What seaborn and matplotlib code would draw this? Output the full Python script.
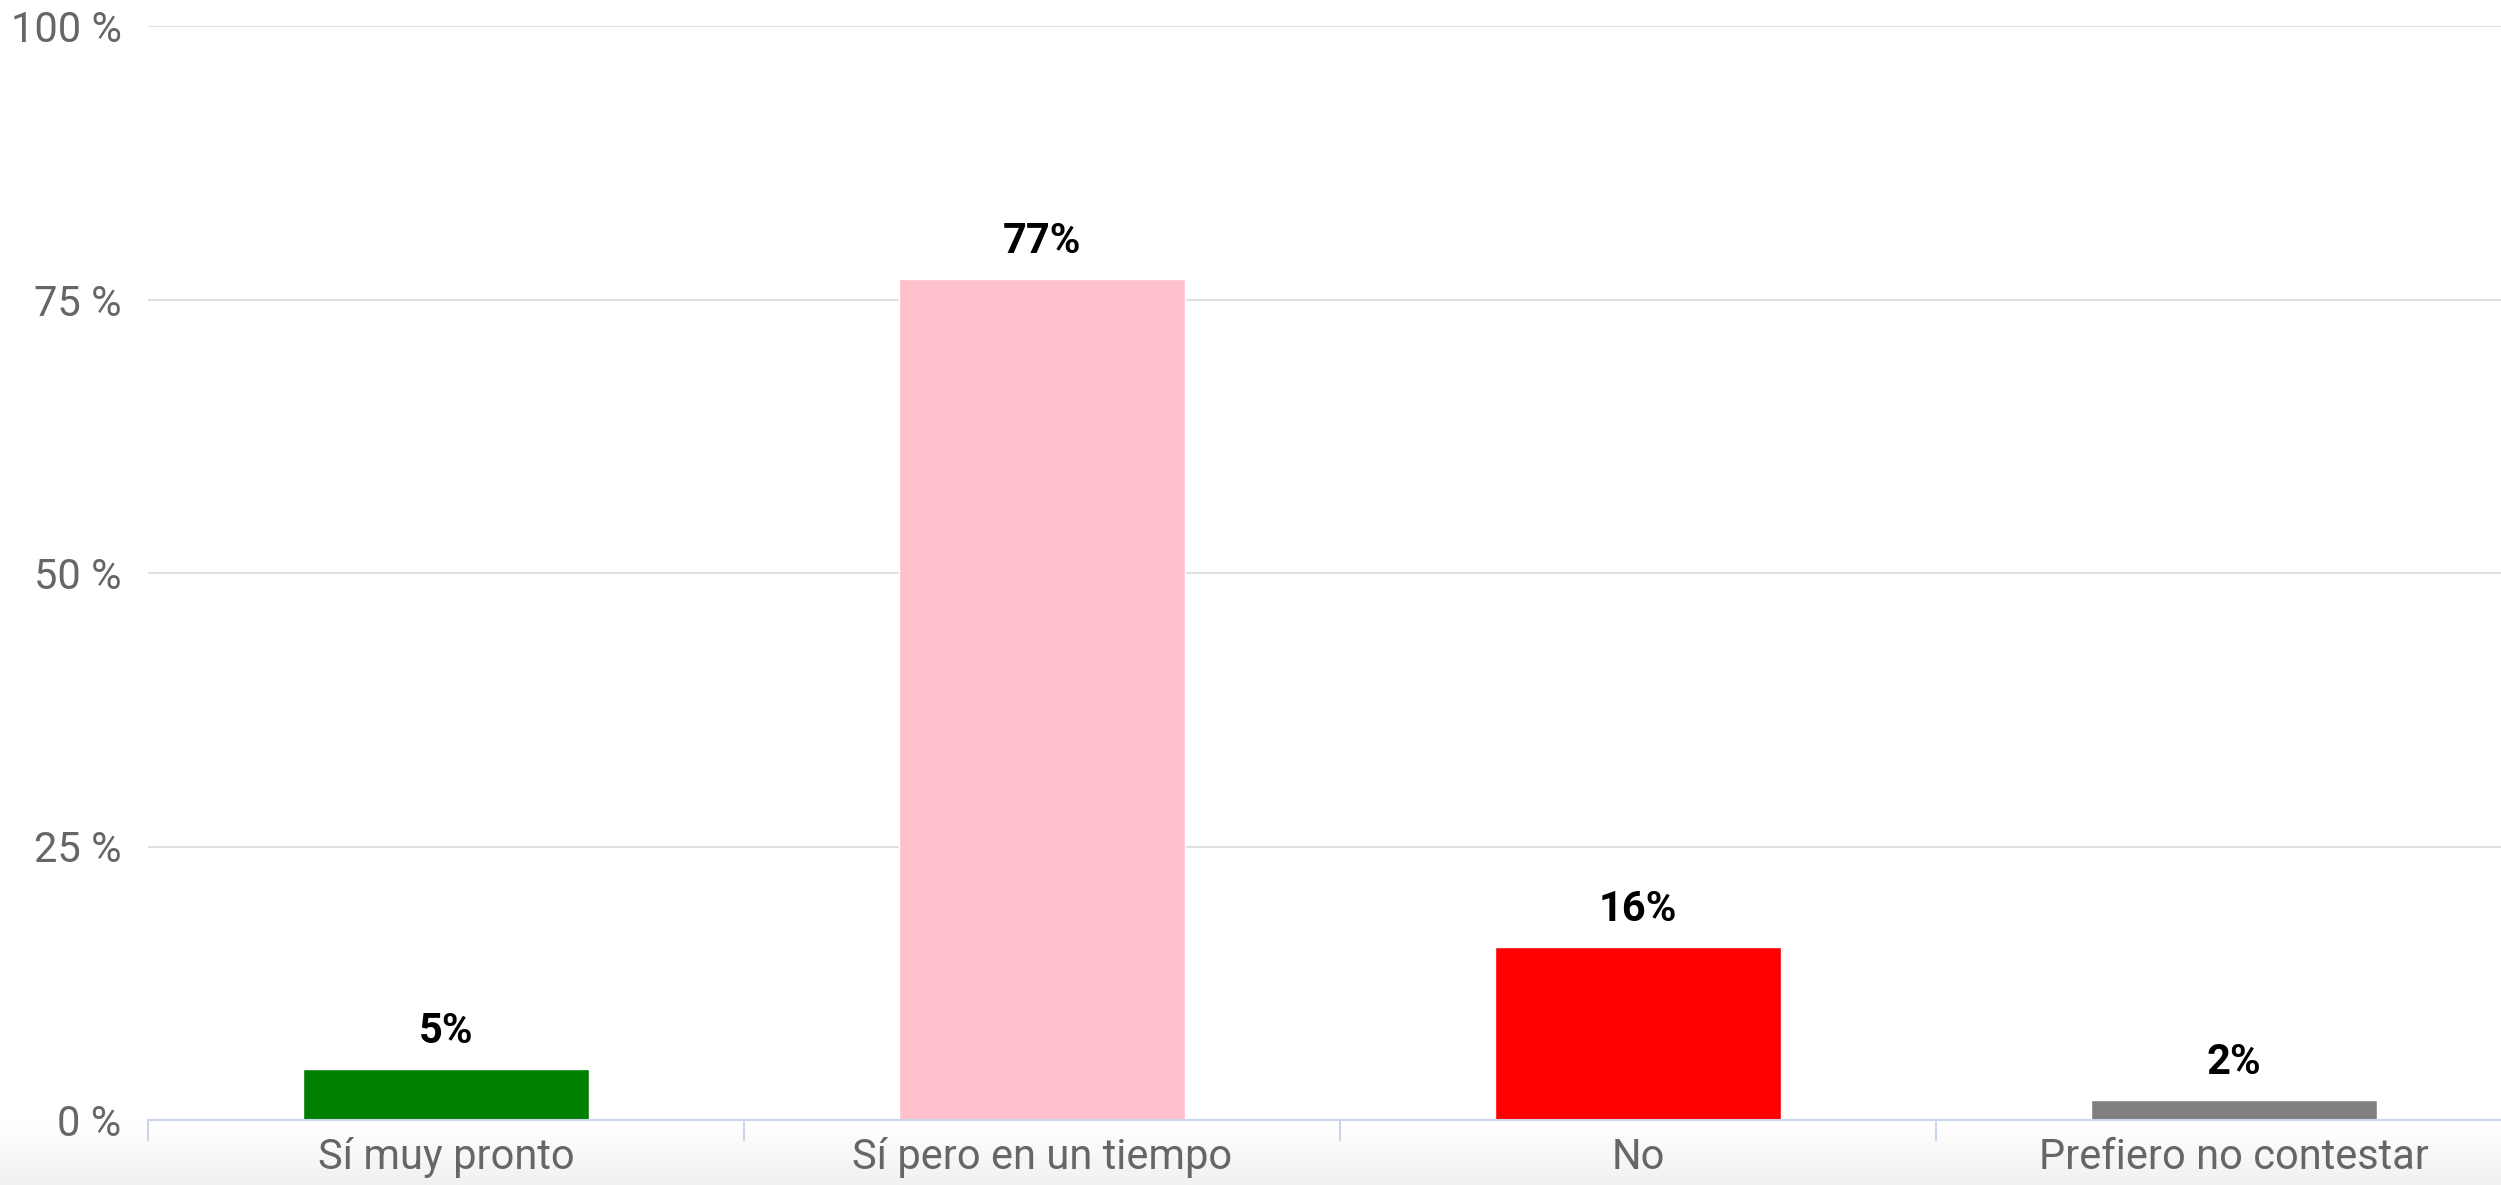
import numpy as np
import matplotlib
matplotlib.use('Agg')
import matplotlib.pyplot as plt
import seaborn as sns

# data
categories = ['Sí muy pronto', 'Sí pero en un tiempo', 'No', 'Prefiero no contestar']
values = [4.7, 76.9, 15.8, 1.8]
value_labels = ['5%', '77%', '16%', '2%']
bar_colors = ['green', 'pink', 'red', 'gray']
y_ticks = [0, 25, 50, 75, 100]
y_tick_labels = ['0 %', '25 %', '50 %', '75 %', '100 %']

sns.set_theme(style='white')
plt.rcParams['font.family'] = ['Roboto', 'DejaVu Sans']

W, H = 2501, 1185
fig = plt.figure(figsize=(W / 100, H / 100), dpi=100)

# faint grey gradient at the very bottom
bg = fig.add_axes([0, 0, 1, 62 / H])
grad = np.linspace(0, 1, 100).reshape(-1, 1)
bg.imshow(grad, aspect='auto', cmap=matplotlib.colors.LinearSegmentedColormap.from_list(
    'g', ['#f1f1f1', '#ffffff']), extent=[0, 1, 0, 1], origin='lower')
bg.axis('off')

left, bottom = 148 / W, (H - 1120) / H
ax = fig.add_axes([left, bottom, (2532 - 148) / W, 1094 / H])
ax.set_facecolor('none')

sns.barplot(x=categories, y=values, hue=categories, palette=bar_colors,
            width=0.48, legend=False, saturation=1, ax=ax, zorder=3)

ax.set_xlim(-0.5, 3.5)
ax.set_ylim(0, 100)
ax.set_yticks(y_ticks)
ax.set_yticklabels(y_tick_labels)
ax.set_xlabel('')
ax.set_ylabel('')

for s in ['top', 'right', 'left']:
    ax.spines[s].set_visible(False)
ax.spines['bottom'].set_color('#ccd6eb')
ax.spines['bottom'].set_linewidth(1.5)
ax.spines['bottom'].set_zorder(4)

ax.yaxis.grid(True, color='#e0e0e0', linewidth=1.5, zorder=0)
ax.set_axisbelow(True)

ax.tick_params(axis='y', length=0, pad=19, labelsize=30, labelcolor='#666666')
ax.tick_params(axis='x', which='major', length=0, pad=12, labelsize=30, labelcolor='#666666')
ax.set_xticks(np.arange(-0.5, 4.0, 1.0), minor=True)
ax.tick_params(axis='x', which='minor', bottom=True, length=15, width=1.5,
               color='#ccd6eb', direction='out')

for i, (v, lab) in enumerate(zip(values, value_labels)):
    ax.annotate(lab, (i, v), xytext=(0, 27), textcoords='offset points',
                ha='center', va='center', fontsize=30, fontweight='bold', color='black')

fig.savefig('out.png', dpi=100)
